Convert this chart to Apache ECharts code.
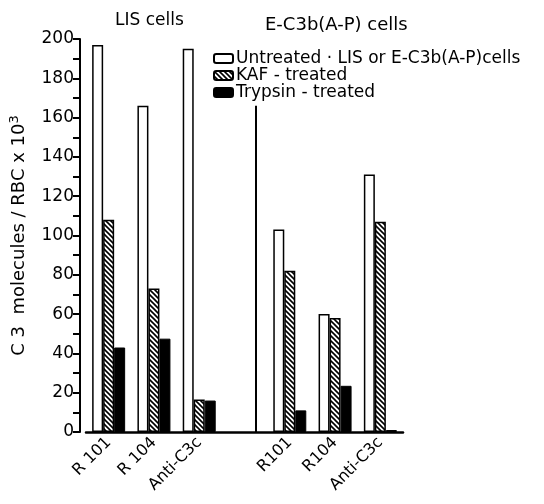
<!DOCTYPE html>
<html><head><meta charset="utf-8">
<script src="https://cdn.jsdelivr.net/npm/echarts@6/dist/echarts.min.js"></script>
<style>html,body{margin:0;padding:0;background:#fff}#c{width:544px;height:504px}</style>
</head><body><div id="c"></div>
<script>
const categories = ['R 101', 'R 104', 'Anti-C3c', '', 'R101', 'R104', 'Anti-C3c'];
const untreated = [197, 166, 195, null, 103, 60, 131];
const kafTreated = [108, 73, 16.5, null, 82, 58, 107];
const trypsinTreated = [43, 47.5, 16, null, 11, 23.5, 1];
const dividerValue = 166;
const yTicks = [0, 20, 40, 60, 80, 100, 120, 140, 160, 180, 200];
const seriesNames = ['Untreated · LIS or E-C3b(A-P)cells', 'KAF - treated', 'Trypsin - treated'];
const groupTitles = ['LIS cells', 'E-C3b(A-P) cells'];

const FONT = '"DejaVu Sans", sans-serif';
function hatch() {
  const c = document.createElement('canvas');
  c.width = 5; c.height = 5;
  const g = c.getContext('2d');
  g.fillStyle = '#fff'; g.fillRect(0, 0, 5, 5);
  g.strokeStyle = '#000'; g.lineWidth = 1.6;
  g.beginPath();
  g.moveTo(-1, -1); g.lineTo(6, 6);
  g.moveTo(-1, 4); g.lineTo(1, 6);
  g.moveTo(4, -1); g.lineTo(6, 1);
  g.stroke();
  return c;
}
const chart = echarts.init(document.getElementById('c'), null, {renderer: 'canvas'});
chart.setOption({
  animation: false,
  backgroundColor: '#fff',
  title: [
    {text: groupTitles[0], left: 110, top: 7, textStyle: {fontFamily: FONT, fontSize: 17, fontWeight: 'normal', color: '#000'}},
    {text: groupTitles[1], left: 260, top: 11, textStyle: {fontFamily: FONT, fontSize: 18, fontWeight: 'normal', color: '#000'}}
  ],
  legend: {
    orient: 'vertical', left: 208, top: 45, itemWidth: 19, itemHeight: 9, itemGap: 0,
    textStyle: {fontFamily: FONT, fontSize: 17, color: '#000', lineHeight: 17, padding: [0, 0, 0, -2]},
    data: seriesNames
  },
  grid: {left: 84, right: 141, top: 39, bottom: 72},
  xAxis: {
    type: 'category', data: categories,
    axisLine: {lineStyle: {color: '#000', width: 2.5}},
    axisTick: {show: false},
    axisLabel: {rotate: 45, color: '#000', fontFamily: FONT, fontSize: 16, margin: 8, interval: 0}
  },
  yAxis: {
    type: 'value', min: 0, max: 200, interval: 20, offset: 6,
    name: '{a|C 3  molecules / RBC x 10}{s|3}', nameLocation: 'middle', nameGap: 49, nameRotate: 90,
    nameTextStyle: {rich: {a: {fontFamily: FONT, fontSize: 18, color: '#000'}, s: {fontFamily: FONT, fontSize: 13, color: '#000', padding: [0, 0, 10, 0]}}},
    axisLine: {show: true, lineStyle: {color: '#000', width: 2}},
    axisTick: {show: true, length: 7, lineStyle: {color: '#000', width: 2}},
    minorTick: {show: true, splitNumber: 2, length: 7, lineStyle: {color: '#000', width: 2}},
    splitLine: {show: false},
    axisLabel: {color: '#000', fontFamily: FONT, fontSize: 17, margin: 6,
      formatter: v => yTicks.includes(v) ? String(v) : ''}
  },
  series: [
    {name: seriesNames[0], type: 'bar', data: untreated, barWidth: 11, barGap: '0%',
      itemStyle: {color: '#fff', borderColor: '#000', borderWidth: 1.5}},
    {name: seriesNames[1], type: 'bar', data: kafTreated, barWidth: 11,
      itemStyle: {color: {image: hatch(), repeat: 'repeat'}, borderColor: '#000', borderWidth: 1.5}},
    {name: seriesNames[2], type: 'bar', data: trypsinTreated, barWidth: 11,
      itemStyle: {color: '#000', borderColor: '#000', borderWidth: 1},
      markLine: {silent: true, symbol: 'none', label: {show: false},
        lineStyle: {color: '#000', width: 2, type: 'solid'},
        data: [[{coord: [3, 0]}, {coord: [3, dividerValue]}]]}}
  ]
});
</script></body></html>
